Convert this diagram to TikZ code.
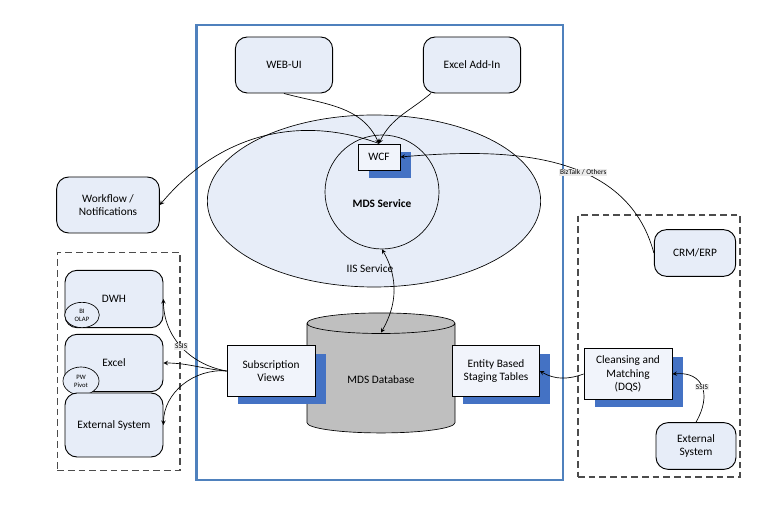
\documentclass[tikz,border=0pt]{standalone}
\usepackage{fontspec}
\setmainfont{Carlito}
\usetikzlibrary{arrows, positioning, shapes.geometric, shadows}

\definecolor{boxfill}{RGB}{231,237,248}
\definecolor{frameblue}{RGB}{79,129,189}
\definecolor{shadeblue}{RGB}{68,114,196}
\definecolor{dbgray}{RGB}{191,191,191}

\begin{document}
\begin{tikzpicture}[
  > = stealth,                  % arrow head style
  x = 0.75pt, y = 0.75pt,       % one unit is one pixel of the sketch
  font = \fontsize{8.5}{10}\selectfont,
  line width = 0.5pt
  ]

  \tikzstyle{R1}=[      % Rounded box
  draw, line width = 0.7pt,
  rounded corners = 9pt,
  fill = boxfill,
  align = center
  ]

  \tikzstyle{S1}=[      % Square box with a blue shadow
  draw, line width = 0.7pt,
  fill = boxfill!60!white,
  align = center,
  drop shadow = {shadow xshift = 8pt, shadow yshift = -6pt,
                 fill = shadeblue, opacity = 1}
  ]

  \tikzstyle{G1}=[      % Dashed group
  draw = black!70, line width = 1pt,
  dash pattern = on 5pt off 3pt
  ]

  \tikzstyle{T1}=[      % Small tag on a connector
  fill = black!8, inner sep = 0.6pt,
  font = \fontsize{5.5}{6.5}\selectfont
  ]

  \tikzstyle{C1}=[      % Small oval on a box
  ellipse, draw, fill = boxfill,
  inner sep = 0pt, align = center,
  font = \fontsize{5}{6}\selectfont
  ]

  \useasboundingbox (0,0) rectangle (774,514);

  % Host frame
  \node[draw = frameblue, line width = 2pt,
        minimum width = 275pt, minimum height = 341pt] (host) at (379.5,261.5) {};

  % Service part
  \node[ellipse, draw, fill = boxfill,
        minimum width = 250pt, minimum height = 129pt] (iis) at (374,313) {};
  \node[circle, draw, fill = boxfill, minimum size = 85.5pt,
        label = {[yshift = -9pt, font = \fontsize{8.5}{10}\selectfont\bfseries]center:MDS Service}]
        (mdssvc) at (382,322) {};
  \node (iislabel) at (370,245) {IIS Service};
  \node[S1, minimum width = 31.5pt, minimum height = 19.5pt] (wcf) at (379,357) {WCF};

  \node[R1, minimum width = 73pt, minimum height = 42pt] (webui) at (284,449) {WEB-UI};
  \node[R1, minimum width = 73pt, minimum height = 42pt] (exceladdin) at (472,449) {Excel Add-In};
  \node[R1, minimum width = 77pt, minimum height = 42pt] (workflow) at (108,309) {Workflow /\\Notifications};

  % Database part
  \node[cylinder, shape border rotate = 90, draw, fill = dbgray, aspect = 0.27,
        minimum width = 111pt, minimum height = 90pt] (mdsdb) at (381,134) {MDS Database};
  \node[S1, minimum width = 66pt, minimum height = 38pt] (subviews) at (271,143) {Subscription\\Views};
  \node[S1, minimum width = 65pt, minimum height = 38pt] (staging) at (496,143) {Entity Based\\Staging Tables};

  % Consumers
  \node[G1, minimum width = 92pt, minimum height = 163pt] (consumers) at (118.5,152.5) {};
  \node[R1, minimum width = 73.5pt, minimum height = 43pt] (dwh) at (114,215) {DWH};
  \node[C1, minimum width = 26pt, minimum height = 19pt] (biolap) at (82,199) {BI\\OLAP};
  \node[R1, minimum width = 73.5pt, minimum height = 43pt] (excel) at (114,151) {Excel};
  \node[C1, minimum width = 27pt, minimum height = 21pt] (pwpivot) at (81,133) {PW\\Pivot};
  \node[R1, minimum width = 73.5pt, minimum height = 48pt] (extleft) at (114,89) {External System};

  % Sources
  \node[G1, minimum width = 121.5pt, minimum height = 196.5pt] (sources) at (659,168) {};
  \node[R1, minimum width = 61pt, minimum height = 35pt] (crm) at (695,261) {CRM/ERP};
  \node[S1, minimum width = 66pt, minimum height = 38pt] (dqs) at (628,140) {Cleansing and\\Matching\\(DQS)};
  \node[R1, minimum width = 60pt, minimum height = 35pt] (extright) at (696,68) {External\\System};

  % Connectors
  \path[->] (webui.south) edge[out = -15, in = 115] (wcf.north);
  \path[->] ([xshift = 6pt]exceladdin.south west) edge[out = -140, in = 65] (wcf.north);
  \path[->] (wcf.north) edge[out = 160, in = 50] (workflow.east);
  \path[->] (crm.west) edge[out = 105, in = 5] node[T1, pos = 0.4] {BizTalk / Others} (wcf.east);
  \path[<->] (mdssvc.south) edge[out = -60, in = 60] ([yshift = -15pt]mdsdb.top);

  \path[->] (subviews.west) edge[out = 170, in = -90] node[T1] {SSIS} (dwh.east);
  \path[->] (subviews.west) edge[out = 175, in = 0] (excel.east);
  \path[->] (subviews.west) edge[out = 175, in = 90] (extleft.east);

  \path[->] (dqs.west) edge[out = -160, in = -30] (staging.east);
  \path[->] (extright.north) edge[out = 60, in = 5, looseness = 1.5] node[T1] {SSIS} (dqs.east);
\end{tikzpicture}
\end{document}
